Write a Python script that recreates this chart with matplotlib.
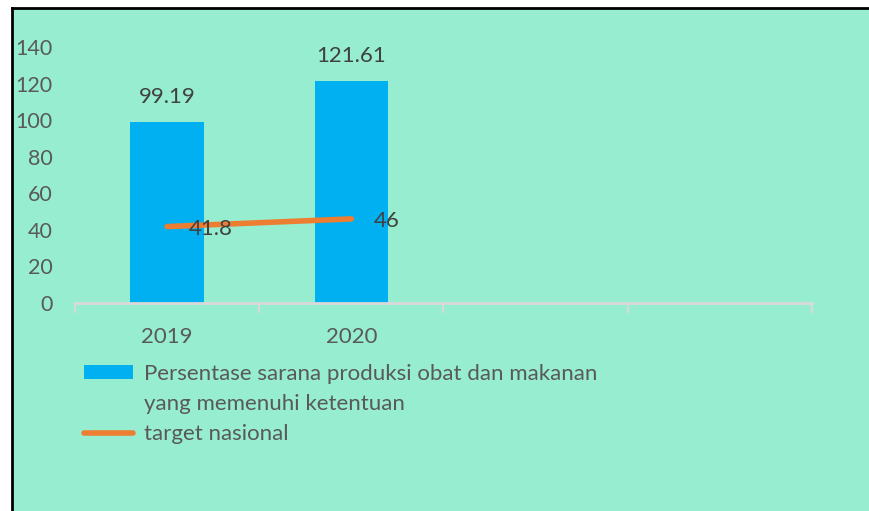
import matplotlib.pyplot as plt
from matplotlib.patches import Rectangle, Patch
from matplotlib.lines import Line2D

years = ['2019', '2020', '', '']
persentase = [99.19, 121.61]
target = [41.8, 46]
bar_label = ['Persentase sarana produksi obat dan makanan', 'yang memenuhi ketentuan']
line_label = 'target nasional'

bg = '#97EDD0'
txt = '#595959'
plt.rcParams['font.family'] = ['Lato', 'DejaVu Sans']

fig = plt.figure(figsize=(8.7, 5.11), dpi=100)
fig.patch.set_facecolor('white')

# green panel with black top/left border
x0, y1 = 12 / 870, 1 - 8 / 511
fig.patches.append(Rectangle((x0, 0), 1 - x0, y1, transform=fig.transFigure,
                             facecolor=bg, edgecolor='none', zorder=-2))
fig.lines.append(Line2D([x0, 1], [y1, y1], transform=fig.transFigure, color='black', lw=2, zorder=-1))
fig.lines.append(Line2D([x0, x0], [0, y1], transform=fig.transFigure, color='black', lw=2, zorder=-1))

ax = fig.add_axes([75 / 870, 1 - 303 / 511, (812 - 75) / 870, (303 - 47) / 511])
ax.set_facecolor('none')
ax.set_zorder(1)

pos = list(range(len(persentase)))
ax.bar(pos, persentase, width=0.4, color='#00B0F0', zorder=2)
for p, v in zip(pos, persentase):
    ax.annotate(f'{v:g}', (p, v), xytext=(0, 15), textcoords='offset pixels',
                ha='center', va='bottom', fontsize=16, color='#404040')

ax.plot(pos, target, color='#ED7D31', lw=4, solid_capstyle='round', zorder=3)
for p, v in zip(pos, target):
    ax.annotate(f'{v:g}', (p, v), xytext=(22, -2), textcoords='offset pixels',
                ha='left', va='center', fontsize=16, color='#404040', zorder=4)

ax.set_xlim(-0.5, len(years) - 0.5)
ax.set_ylim(0, 140)
ax.set_yticks(range(0, 141, 20))
ax.set_xticks(range(len(years)))
ax.set_xticklabels(years)
ax.set_xticks([i - 0.5 for i in range(len(years) + 1)], minor=True)
ax.tick_params(axis='x', which='major', length=0, pad=17, labelsize=16, labelcolor=txt)
ax.tick_params(axis='x', which='minor', length=7, width=1.5, color='#D9D9D9')
ax.tick_params(axis='y', length=0, pad=16, labelsize=15.5, labelcolor=txt)

for s in ['top', 'right', 'left']:
    ax.spines[s].set_visible(False)
ax.spines['bottom'].set_color('#D9D9D9')
ax.spines['bottom'].set_linewidth(2)

handles = [Patch(facecolor='#00B0F0'),
           Line2D([], [], color='none'),
           Line2D([0], [0], color='#ED7D31', lw=4, solid_capstyle='round')]
fig.legend(handles, bar_label + [line_label], loc='upper left',
           bbox_to_anchor=(84 / 870, 1 - 364 / 511), frameon=False,
           fontsize=16, labelcolor=txt, handlelength=2.2, handleheight=0.6,
           handletextpad=0.5, labelspacing=0.45, borderaxespad=0, borderpad=0)

fig.savefig('out.png', dpi=100, facecolor=fig.get_facecolor())
